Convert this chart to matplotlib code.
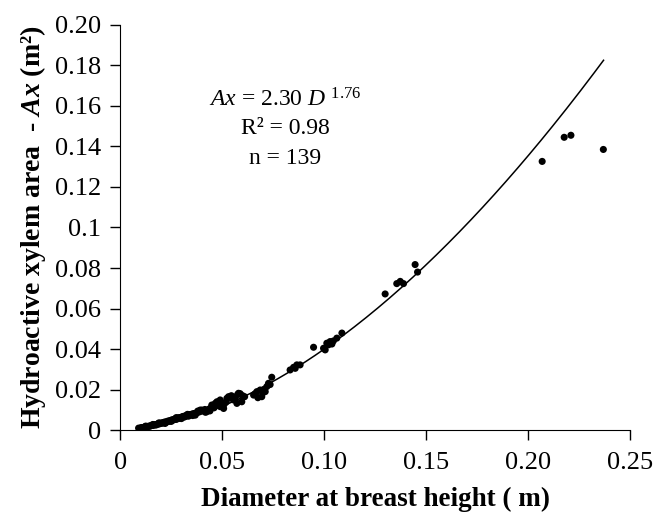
import numpy as np
import matplotlib
matplotlib.use("Agg")
import matplotlib.pyplot as plt

plt.rcParams['font.family'] = ['Liberation Serif', 'DejaVu Serif']
plt.rcParams['mathtext.fontset'] = 'custom'
plt.rcParams['mathtext.rm'] = 'Liberation Serif'
plt.rcParams['mathtext.it'] = 'Liberation Serif:italic'
plt.rcParams['mathtext.bf'] = 'Liberation Serif:bold'
plt.rcParams['mathtext.bfit'] = 'Liberation Serif:italic:bold'

# measured trees: diameter at breast height (m) and hydroactive xylem area (m2)
dbh = [0.009, 0.0100, 0.0105, 0.0110, 0.0115, 0.0120, 0.0125, 0.0130, 0.0135, 0.0140,
       0.0145, 0.0150, 0.0155, 0.0160, 0.0165, 0.0170, 0.0175, 0.0180, 0.0185, 0.0190,
       0.0195, 0.0200, 0.0205, 0.0210, 0.0215, 0.0220, 0.0225, 0.0230, 0.0235, 0.0240,
       0.0245, 0.0250, 0.0255, 0.0260, 0.0265, 0.0270, 0.0275, 0.0280, 0.0285, 0.0290,
       0.0295, 0.0300, 0.0305, 0.0310, 0.0315, 0.0320, 0.0327, 0.0335, 0.0340, 0.0351,
       0.0360, 0.0368, 0.0375, 0.0384, 0.0392, 0.0400, 0.0408, 0.0418, 0.0425, 0.0435,
       0.0449, 0.0449, 0.0460, 0.0466, 0.0474, 0.0482, 0.0490, 0.0490, 0.0500, 0.0507,
       0.0507, 0.0515, 0.0523, 0.0531, 0.0539, 0.0547, 0.0556, 0.0564, 0.0572, 0.0580,
       0.0588, 0.0596, 0.0600, 0.0654, 0.0662, 0.0670, 0.0686, 0.0694, 0.0700, 0.0711,
       0.0719, 0.0727, 0.0735, 0.0743, 0.0833, 0.0850, 0.0858, 0.0866, 0.0882, 0.0948,
       0.0997, 0.1005, 0.1013, 0.1021, 0.1029, 0.1038, 0.1045, 0.1062, 0.1087, 0.1299,
       0.1356, 0.1373, 0.1389, 0.1446, 0.1458, 0.2069, 0.2177, 0.2210, 0.2369,
       0.0125, 0.0160, 0.0190, 0.0220, 0.0250, 0.0275, 0.0300, 0.0330, 0.0355, 0.0380,
       0.0415, 0.0440, 0.0455, 0.0520, 0.0545, 0.0560, 0.0575, 0.0610, 0.0675, 0.0705]
area = [0.0010, 0.0011, 0.0013, 0.0012, 0.0014, 0.0015, 0.0017, 0.0016, 0.0018, 0.0020,
        0.0019, 0.0022, 0.0024, 0.0023, 0.0026, 0.0027, 0.0025, 0.0029, 0.0031, 0.0030,
        0.0033, 0.0035, 0.0034, 0.0037, 0.0039, 0.0040, 0.0038, 0.0043, 0.0045, 0.0044,
        0.0047, 0.0049, 0.0051, 0.0050, 0.0054, 0.0056, 0.0053, 0.0058, 0.0060, 0.0062,
        0.0059, 0.0064, 0.0066, 0.0068, 0.0065, 0.0071, 0.0074, 0.0069, 0.0077, 0.0079,
        0.0082, 0.0074, 0.0086, 0.0091, 0.0099, 0.0099, 0.0096, 0.0088, 0.0091, 0.0104,
        0.0116, 0.0124, 0.0110, 0.0132, 0.0140, 0.0140, 0.0116, 0.0149, 0.0128, 0.0107,
        0.0124, 0.0135, 0.0157, 0.0165, 0.0165, 0.0157, 0.0149, 0.0150, 0.0132, 0.0182,
        0.0180, 0.0140, 0.0170, 0.0173, 0.0180, 0.0190, 0.0198, 0.0165, 0.0185, 0.0190,
        0.0215, 0.0231, 0.0225, 0.0261, 0.0297, 0.0310, 0.0305, 0.0322, 0.0322, 0.0409,
        0.0404, 0.0396, 0.0429, 0.0421, 0.0437, 0.0425, 0.0440, 0.0454, 0.0479, 0.0672,
        0.0723, 0.0734, 0.0723, 0.0817, 0.0780, 0.1326, 0.1445, 0.1455, 0.1385,
        0.0020, 0.0028, 0.0036, 0.0033, 0.0043, 0.0062, 0.0057, 0.0078, 0.0072, 0.0094,
        0.0102, 0.0095, 0.0120, 0.0140, 0.0170, 0.0160, 0.0175, 0.0165, 0.0160, 0.0200]

# power fit Ax = a * D^b
fit_a = 2.30
fit_b = 1.76
fit_dmin, fit_dmax = 0.01, 0.237

xticks = [0, 0.05, 0.10, 0.15, 0.20, 0.25]
xticklabels = ['0', '0.05', '0.10', '0.15', '0.20', '0.25']
yticks = [0, 0.02, 0.04, 0.06, 0.08, 0.10, 0.12, 0.14, 0.16, 0.18, 0.20]
yticklabels = ['0', '0.02', '0.04', '0.06', '0.08', '0.1', '0.12', '0.14', '0.16', '0.18', '0.20']

fig = plt.figure(figsize=(6.57, 5.17), dpi=100)
ax = fig.add_axes([0.183, 0.168, 0.776, 0.784])

d = np.linspace(fit_dmin, fit_dmax, 200)
ax.plot(d, fit_a * d ** fit_b, color='black', lw=1.1, zorder=2)
ax.scatter(dbh, area, s=26, color='black', edgecolors='none', zorder=3)

ax.set_xlim(0, 0.25)
ax.set_ylim(0, 0.20)
ax.set_xticks(xticks)
ax.set_xticklabels(xticklabels)
ax.set_yticks(yticks)
ax.set_yticklabels(yticklabels)
ax.tick_params(direction='out', length=7, width=1, labelsize=19)
ax.tick_params(axis='x', pad=9)
ax.tick_params(axis='y', pad=7)
ax.spines['top'].set_visible(False)
ax.spines['right'].set_visible(False)

ax.set_xlabel('Diameter at breast height ( m)', fontsize=19.5, fontweight='bold', labelpad=9)
ax.set_ylabel(r'Hydroactive xylem area  - $\mathbfit{Ax}$ (m²)', fontsize=20,
              fontweight='bold', labelpad=5)

ax.text(0.081, 0.163, r'$\mathit{Ax}$ = 2.30 $\mathit{D}$ $^{1.76}$', fontsize=17,
        ha='center', va='center')
ax.text(0.081, 0.149, 'R² = 0.98', fontsize=17, ha='center', va='center')
ax.text(0.081, 0.134, 'n = 139', fontsize=17, ha='center', va='center')

fig.savefig('out.png', dpi=100)
